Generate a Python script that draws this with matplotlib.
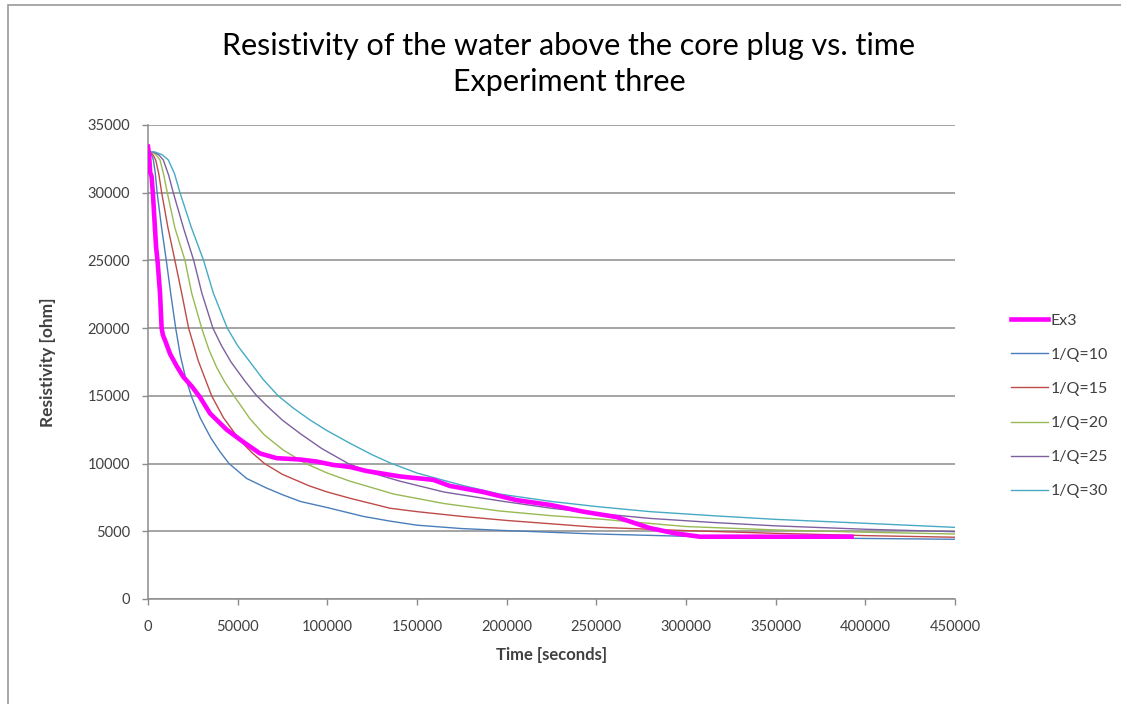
import matplotlib.pyplot as plt
from matplotlib.patches import Rectangle


# measured curve, experiment three
EX3_T = [0, 600, 1200, 2000, 2800, 3600, 4500, 5300, 6700, 7600, 8300, 9500,
         12300, 16000, 19700, 24400, 29000, 34600, 43900, 53100, 62400, 71700,
         84700, 94000, 103300, 112600, 121900, 140500, 159000, 168300, 186900,
         205500, 224100, 242700, 261300, 266000, 279800, 293800, 307700, 350000, 392300]
EX3_R = [33400, 32800, 31500, 31200, 29800, 28000, 26000, 25000, 22600, 20000, 19500, 19100,
         18100, 17200, 16400, 15700, 14900, 13700, 12500, 11600, 10750, 10400,
         10300, 10150, 9900, 9750, 9450, 9050, 8800, 8350, 7900,
         7300, 6950, 6450, 6050, 5840, 5240, 4850, 4600, 4600, 4600]

# model curves for different 1/Q
Q10_T = [0, 1000, 2000, 3000, 4000, 5100, 7500, 10200, 12650, 15440, 18000, 21000, 24400,
         29000, 35000, 40000, 45200, 55000, 66000, 75000, 85000, 100000, 120000, 135000,
         150000, 175000, 200000, 250000, 300000, 350000, 400000, 450000]
Q10_R = [33050, 33000, 32800, 32420, 31500, 30000, 27500, 25000, 22580, 20000, 18000, 16300, 14900,
         13400, 11900, 10900, 10000, 8900, 8200, 7700, 7200, 6750, 6100, 5750,
         5450, 5200, 5050, 4800, 4630, 4540, 4470, 4410]

Q15_T = [0, 1500, 3000, 4290, 6000, 7640, 11000, 15000, 18790, 22650, 28000, 35500, 42000,
         51300, 58000, 65000, 75000, 90000, 100000, 112600, 135000, 150000, 175000, 200000,
         250000, 300000, 350000, 400000, 450000]
Q15_R = [33050, 33000, 32750, 32420, 31400, 30000, 27500, 25000, 22580, 20000, 17600, 15000, 13400,
         11700, 10800, 10000, 9200, 8350, 7900, 7440, 6700, 6450, 6100, 5800,
         5300, 5050, 4850, 4680, 4560]

Q20_T = [0, 2500, 4500, 6690, 8800, 10760, 15000, 20620, 24360, 29930, 34000, 38300, 42900,
         48500, 56900, 65000, 75400, 88000, 100000, 112600, 137000, 165000, 196000, 225000,
         252000, 300000, 350000, 400000, 450000]
Q20_R = [33050, 33000, 32800, 32420, 31300, 30000, 27400, 25000, 22580, 20000, 18400, 17100, 16000,
         14900, 13300, 12100, 11000, 10000, 9300, 8700, 7750, 7050, 6500, 6150,
         5900, 5350, 5100, 4930, 4800]

Q25_T = [0, 3000, 6000, 8530, 11500, 14100, 20000, 25500, 30000, 36200, 41000, 46300, 54000,
         60000, 66000, 75000, 85000, 97000, 111700, 125000, 140500, 165000, 196000, 225000,
         252000, 280000, 315000, 350000, 400000, 450000]
Q25_R = [33050, 33000, 32800, 32420, 31300, 30000, 27300, 25000, 22600, 20000, 18700, 17500, 16100,
         15100, 14300, 13200, 12200, 11100, 10000, 9300, 8700, 7900, 7250, 6700,
         6300, 5950, 5650, 5400, 5150, 4970]

Q30_T = [0, 4000, 8000, 11320, 14800, 17840, 24000, 31000, 36400, 44200, 50000, 56900, 64300,
         72600, 81000, 90000, 99600, 112600, 125000, 135000, 150000, 175000, 196000, 225000,
         252000, 280000, 315000, 350000, 400000, 450000]
Q30_R = [33050, 33000, 32800, 32420, 31400, 30000, 27500, 25000, 22600, 20000, 18700, 17500, 16200,
         15000, 14100, 13250, 12450, 11500, 10650, 10050, 9300, 8400, 7750, 7200,
         6800, 6450, 6150, 5880, 5590, 5290]

LABELS = ["Ex3", "1/Q=10", "1/Q=15", "1/Q=20", "1/Q=25", "1/Q=30"]
COLORS = ["#ff00ff", "#4a7ebb", "#be4b48", "#98b954", "#7d60a0", "#46aac5"]

X_TICKS = list(range(0, 450001, 50000))
Y_TICKS = list(range(0, 35001, 5000))

FONT = "Lato"
GRID = "#8c8c8c"
TXT = "#404040"


def main():
    fig = plt.figure(figsize=(11.21, 7.04), dpi=100)
    ax = fig.add_axes([148 / 1121, 1 - 599 / 704, 807 / 1121, 474 / 704])

    series = [(EX3_T, EX3_R), (Q10_T, Q10_R), (Q15_T, Q15_R),
              (Q20_T, Q20_R), (Q25_T, Q25_R), (Q30_T, Q30_R)]
    for i, (t, r) in enumerate(series):
        lw = 3.3 if i == 0 else 1.0
        ax.plot(t, r, color=COLORS[i], lw=lw, label=LABELS[i], zorder=5 if i == 0 else 3,
                solid_joinstyle="round")

    ax.set_xlim(0, 450000)
    ax.set_ylim(0, 35000)
    ax.set_xticks(X_TICKS)
    ax.set_yticks(Y_TICKS)
    ax.set_xticklabels([str(v) for v in X_TICKS], fontfamily=FONT, fontsize=10.5, color=TXT)
    ax.set_yticklabels([str(v) for v in Y_TICKS], fontfamily=FONT, fontsize=10.5, color=TXT)
    ax.tick_params(axis="both", direction="out", length=4, color=GRID, width=1)
    ax.tick_params(axis="x", pad=11)
    ax.tick_params(axis="y", pad=9)

    ax.grid(True, axis="y", color=GRID, lw=1.1)
    ax.set_axisbelow(True)
    for side in ("top", "right"):
        ax.spines[side].set_visible(False)
    for side in ("left", "bottom"):
        ax.spines[side].set_color(GRID)
        ax.spines[side].set_linewidth(1.1)

    ax.set_xlabel("Time [seconds]", fontfamily=FONT, fontsize=12, fontweight="bold",
                  color=TXT, labelpad=9.5)
    ax.set_ylabel("Resistivity [ohm]", fontfamily=FONT, fontsize=12.5, fontweight="bold",
                  color=TXT, labelpad=22.5)

    fig.text(569 / 1121, 1 - 64 / 704,
             "Resistivity of the water above the core plug vs. time\nExperiment three",
             ha="center", va="center", fontfamily=FONT, fontsize=22, color="#000000",
             linespacing=1.33)

    ax.legend(loc="center left", bbox_to_anchor=(1003 / 1121, 1 - 406 / 704),
              bbox_transform=fig.transFigure, frameon=False,
              prop={"family": FONT, "size": 11.5}, labelcolor=TXT,
              handlelength=2.3, handletextpad=0.2, labelspacing=1.25, borderpad=0)

    # chart area border (left and top edges visible)
    fig.add_artist(Rectangle((8 / 1121, -0.2), 1.2, 1.2 - 5 / 704,
                             transform=fig.transFigure, fill=False,
                             edgecolor="#9a9a9a", lw=1.2))

    fig.savefig("out.png", dpi=100)
    plt.close(fig)


if __name__ == "__main__":
    main()
